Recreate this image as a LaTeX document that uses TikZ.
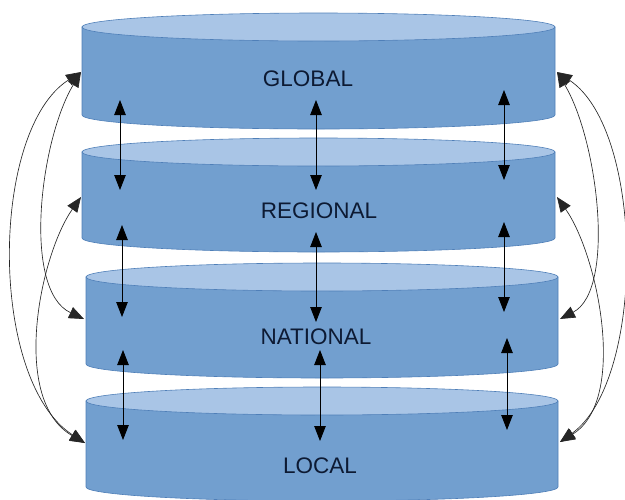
\documentclass[tikz,border=0pt]{standalone}
\usepackage{fontspec}
\setmainfont{Liberation Sans}
\usetikzlibrary{arrows.meta}
\definecolor{sidefill}{HTML}{729FCF}
\definecolor{topfill}{HTML}{A9C5E6}
\definecolor{rimline}{HTML}{4F7FB8}
\definecolor{labelcol}{HTML}{0D1A33}
\tikzset{
  side/.style={fill=sidefill, draw=rimline, line width=0.6pt},
  lid/.style={fill=topfill, draw=rimline, line width=0.6pt},
  lvl/.style={text=labelcol, font=\fontsize{22.5}{27}\selectfont, inner sep=0pt},
  varrow/.style={draw=black, line width=0.8pt, {Triangle[length=15pt,width=11.5pt]}-{Triangle[length=15pt,width=11.5pt]}},
  carrow/.style={draw=black!85, line width=0.65pt, {Triangle[length=15pt,width=12pt]}-{Triangle[length=15pt,width=12pt]}}
}
\newcommand{\mycyl}[5]{% L R yt yb ry
  \pgfmathsetmacro{\rx}{(#2-#1)/2}
  \pgfmathsetmacro{\cx}{(#2+#1)/2}
  \filldraw[side] (#1,-#3) -- (#1,-#4) arc[start angle=180,end angle=360,x radius=\rx,y radius=#5] -- (#2,-#3) -- cycle;
  \filldraw[lid] (\cx,-#3) ellipse[x radius=\rx, y radius=#5];
}
\begin{document}
\begin{tikzpicture}[x=1pt,y=1pt]
\useasboundingbox (0,0) rectangle (625,-499);
\clip (0,0) rectangle (625,-499);
% cylinders
\mycyl{82}{555}{27}{115}{14}
\mycyl{82}{555}{152}{238}{14}
\mycyl{86}{558}{277}{364}{14}
\mycyl{86}{558}{401}{487}{14}
% labels
\node[lvl] (global) at (308,-78.5) {GLOBAL};
\node[lvl] (regional) at (319,-211) {REGIONAL};
\node[lvl] (national) at (316,-337) {NATIONAL};
\node[lvl] (local) at (320,-465.5) {LOCAL};
% side anchor points
\coordinate (gl) at (81,-72);
\coordinate (rl) at (81,-197);
\coordinate (nl) at (84,-319);
\coordinate (ll) at (85,-443);
\coordinate (gr) at (557,-72);
\coordinate (rr) at (557,-197);
\coordinate (nr) at (560,-319);
\coordinate (lr) at (560,-442);
% vertical arrow ends
\coordinate (a1t) at (120,-100); \coordinate (a1b) at (120,-190);
\coordinate (b1t) at (316,-100); \coordinate (b1b) at (316,-190);
\coordinate (c1t) at (504,-90);  \coordinate (c1b) at (504,-180);
\coordinate (a2t) at (122,-225); \coordinate (a2b) at (122,-317);
\coordinate (b2t) at (316,-232); \coordinate (b2b) at (316,-322);
\coordinate (c2t) at (504,-222); \coordinate (c2b) at (504,-312);
\coordinate (a3t) at (123,-350); \coordinate (a3b) at (123,-440);
\coordinate (b3t) at (320,-350); \coordinate (b3b) at (320,-441);
\coordinate (c3t) at (507,-338); \coordinate (c3b) at (507,-430);
\foreach \p in {a1,b1,c1,a2,b2,c2,a3,b3,c3}{
  \draw[varrow] (\p t) -- (\p b);
}
% curved connectors, left
\draw[carrow] (gl) .. controls (-10,-130) and (-12,-380) .. (ll);
\draw[carrow] (gl) .. controls (40,-140) and (22,-290) .. (nl);
\draw[carrow] (rl) .. controls (40,-255) and (10,-400) .. (ll);
% curved connectors, right
\draw[carrow] (gr) .. controls (645,-130) and (646,-380) .. (lr);
\draw[carrow] (gr) .. controls (598,-140) and (616,-290) .. (nr);
\draw[carrow] (rr) .. controls (598,-255) and (628,-400) .. (lr);
\end{tikzpicture}
\end{document}
